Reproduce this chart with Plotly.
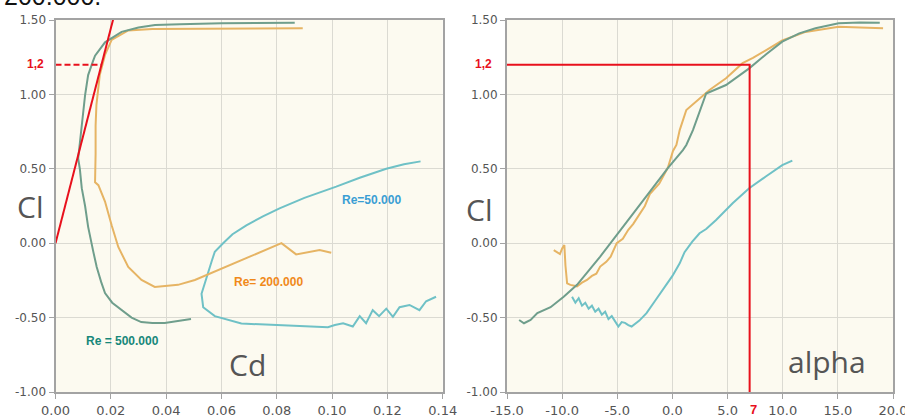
import plotly.graph_objects as go

W, H = 905, 417

# ---------------- data: Cl vs Cd (left) ----------------
cd_500 = [0.0865, 0.075, 0.060, 0.045, 0.036, 0.030, 0.0239, 0.0179, 0.0143, 0.0135, 0.0118,
          0.0107, 0.0095, 0.0085, 0.0082, 0.0088, 0.0095, 0.0107, 0.0118, 0.0137, 0.0149, 0.0165,
          0.0179, 0.0205, 0.0239, 0.0275, 0.031, 0.035, 0.0395, 0.044, 0.049]
cl_500 = [1.482, 1.482, 1.478, 1.472, 1.466, 1.45, 1.42, 1.35, 1.26, 1.22, 1.13,
          0.995, 0.79, 0.65, 0.57, 0.50, 0.37, 0.25, 0.11, -0.06, -0.16, -0.26,
          -0.335, -0.40, -0.45, -0.50, -0.53, -0.537, -0.536, -0.525, -0.51]

cd_200 = [0.0894, 0.075, 0.060, 0.045, 0.035, 0.0263, 0.0203, 0.0179, 0.016, 0.0148, 0.0145,
          0.0145, 0.0143, 0.0143, 0.0155, 0.0179, 0.0203, 0.0227, 0.0263, 0.0311, 0.0359,
          0.0443, 0.0504, 0.060, 0.070, 0.0817, 0.087, 0.0955, 0.0997]
cl_200 = [1.445, 1.445, 1.445, 1.442, 1.44, 1.43, 1.366, 1.265, 1.13, 0.93, 0.79,
          0.60, 0.45, 0.41, 0.39, 0.28, 0.12, -0.025, -0.16, -0.247, -0.294,
          -0.28, -0.247, -0.171, -0.092, 0.0, -0.075, -0.046, -0.064]

cd_50 = [0.132, 0.126, 0.1196, 0.110, 0.1015, 0.090, 0.081, 0.075, 0.069, 0.064, 0.0606,
         0.0576, 0.0565, 0.0552, 0.054, 0.0528, 0.0534, 0.0576, 0.0672, 0.084, 0.0985,
         0.101, 0.104, 0.1075, 0.110, 0.1123, 0.1147, 0.117, 0.1196, 0.122, 0.1244,
         0.128, 0.1316, 0.134, 0.1376]
cl_50 = [0.55, 0.53, 0.50, 0.44, 0.38, 0.305, 0.234, 0.18, 0.12, 0.06, 0.0,
         -0.057, -0.12, -0.2, -0.27, -0.34, -0.43, -0.49, -0.54, -0.556, -0.565,
         -0.55, -0.538, -0.56, -0.49, -0.538, -0.45, -0.49, -0.44, -0.495, -0.43,
         -0.415, -0.45, -0.39, -0.36]

tangent_cd = [0.0, 0.0212]
tangent_cl = [0.0, 1.53]
dash_cd = [0.0, 0.0166]
dash_cl = [1.2, 1.2]

# ---------------- data: Cl vs alpha (right) ----------------
a_500 = [-13.9, -13.46, -12.86, -12.25, -11.05, -9.86, -8.65, -6.55, -3.55, -0.4, 0.95,
         1.26, 1.86, 3.06, 4.86, 6.96, 8.5, 9.96, 11.5, 12.97, 15.07, 17.0, 18.8]
cla_500 = [-0.516, -0.538, -0.516, -0.47, -0.43, -0.36, -0.28, -0.09, 0.20, 0.506, 0.626,
           0.66, 0.76, 1.006, 1.063, 1.175, 1.27, 1.354, 1.41, 1.444, 1.478, 1.484, 1.482]

a_200 = [-10.76, -10.4, -10.2, -10.0, -9.8, -9.7, -9.55, -9.25, -8.65, -8.2, -7.75, -7.3,
         -6.9, -6.55, -6.0, -5.6, -5.05, -4.5, -4.0, -3.55, -3.0, -2.5, -2.05, -1.2, -0.4,
         0.05, 0.36, 0.66, 1.26, 3.36, 4.86, 6.36, 7.3, 8.5, 9.96, 12.07, 15.07, 17.0, 19.1]
cla_200 = [-0.046, -0.06, -0.073, -0.035, -0.012, -0.15, -0.27, -0.28, -0.29, -0.265, -0.247, -0.22,
           -0.205, -0.157, -0.125, -0.09, 0.0, 0.03, 0.09, 0.13, 0.19, 0.25, 0.33, 0.40, 0.51,
           0.62, 0.66, 0.76, 0.895, 1.03, 1.108, 1.21, 1.245, 1.30, 1.362, 1.42, 1.455, 1.45, 1.444]

a_50 = [-9.1, -8.8, -8.5, -8.2, -7.9, -7.6, -7.3, -7.0, -6.7, -6.4, -6.1, -5.8, -5.5, -5.2,
        -4.9, -4.6, -4.3, -4.0, -3.7, -3.0, -2.35, -1.6, -0.85, 0.0, 0.66, 1.1, 1.8, 2.46,
        3.06, 3.96, 5.46, 6.96, 8.5, 9.96, 10.87]
cla_50 = [-0.36, -0.40, -0.37, -0.42, -0.40, -0.44, -0.42, -0.46, -0.44, -0.48, -0.46, -0.51,
          -0.49, -0.53, -0.56, -0.53, -0.535, -0.55, -0.56, -0.52, -0.47, -0.39, -0.31, -0.22,
          -0.135, -0.06, 0.01, 0.067, 0.095, 0.156, 0.268, 0.369, 0.45, 0.525, 0.555]

red_alpha = [-15.0, 7.0, 7.0]
red_cl = [1.2, 1.2, -1.0]

# ---------------- ticks ----------------
y_tickvals = [-1.0, -0.5, 0.0, 0.5, 1.0, 1.5]
y_ticktext = ["-1.00", "-0.50", "0.00", "0.50", "1.00", "1.50"]
cd_tickvals = [0.0, 0.02, 0.04, 0.06, 0.08, 0.10, 0.12, 0.14]
cd_ticktext = ["0.00", "0.02", "0.04", "0.06", "0.08", "0.10", "0.12", "0.14"]
a_tickvals = [-15, -10, -5, 0, 5, 10, 15, 20]
a_ticktext = ["-15.0", "-10.0", "-5.0", "0.0", "5.0", "10.0", "15.0", "20.0"]

C500 = "#6f9e8c"
C200 = "#e6b464"
C50 = "#6fc1c6"
RED = "#e8101c"

fig = go.Figure()

def line(x, y, color, xa, ya, width=2, dash="solid"):
    fig.add_trace(go.Scatter(x=x, y=y, mode="lines", xaxis=xa, yaxis=ya,
                             line=dict(color=color, width=width, dash=dash),
                             hoverinfo="skip", showlegend=False))

line(cd_50, cl_50, C50, "x", "y")
line(cd_200, cl_200, C200, "x", "y")
line(cd_500, cl_500, C500, "x", "y")
line(tangent_cd, tangent_cl, RED, "x", "y")
line(dash_cd, dash_cl, RED, "x", "y", dash="6px,3px")

line(a_50, cla_50, C50, "x2", "y2")
line(a_200, cla_200, C200, "x2", "y2")
line(a_500, cla_500, C500, "x2", "y2")
line(red_alpha, red_cl, RED, "x2", "y2")

def px(x):
    return x / W

def py(y):
    return 1 - y / H

ydom = [py(392), py(20)]
axis_common = dict(showline=True, linecolor="#a3a3a3", linewidth=2, mirror=True,
                   showgrid=True, gridcolor="#dbdad2", gridwidth=1, zeroline=False,
                   ticks="outside", ticklen=5, tickcolor="#a3a3a3", automargin=False,
                   tickfont=dict(family="DejaVu Sans", size=12, color="#555555"),
                   tickmode="array", ticklabeloverflow="allow")

fig.update_layout(
    width=W, height=H, margin=dict(l=0, r=0, t=0, b=0),
    paper_bgcolor="white", plot_bgcolor="#fcfaf0",
    xaxis=dict(domain=[px(55.5), px(442.7)], range=[0, 0.14], anchor="y",
               tickvals=cd_tickvals, ticktext=cd_ticktext, **axis_common),
    yaxis=dict(domain=ydom, range=[-1, 1.5], anchor="x",
               tickvals=y_tickvals, ticktext=y_ticktext, **axis_common),
    xaxis2=dict(domain=[px(507), px(893)], range=[-15, 20], anchor="y2",
                tickvals=a_tickvals, ticktext=a_ticktext, **axis_common),
    yaxis2=dict(domain=ydom, range=[-1, 1.5], anchor="x2",
                tickvals=y_tickvals, ticktext=y_ticktext, **axis_common),
)
fig.update_xaxes(tickfont=dict(size=13))

def ann(text, x, y, size, color, family="Arial", bold=False, xanchor="center", yanchor="middle"):
    if bold:
        text = "<b>" + text + "</b>"
    fig.add_annotation(text=text, x=px(x), y=py(y), xref="paper", yref="paper",
                       showarrow=False, xanchor=xanchor, yanchor=yanchor,
                       font=dict(family=family, size=size, color=color))

ann("Re=50.000", 371, 200, 12, "#3a9ed4", bold=True)
ann("Re= 200.000", 268, 282, 12, "#f0891a", bold=True)
ann("Re = 500.000", 122, 341, 12, "#17877a", bold=True)
ann("Cl", 30, 206, 30, "#555555", family="Open Sans")
ann("Cl", 479, 209, 30, "#555555", family="Open Sans")
ann("Cd", 248, 364, 30, "#555555", family="Open Sans")
ann("alpha", 827, 361, 30, "#555555", family="Open Sans")
ann("1,2", 35, 64, 12, RED, bold=True)
ann("1,2", 483, 64, 12, RED, bold=True)
ann("7", 753, 409, 13, RED, bold=True)
ann("200.000.", 2, -4, 25, "#111111", xanchor="left")

fig.write_html("out.html")
